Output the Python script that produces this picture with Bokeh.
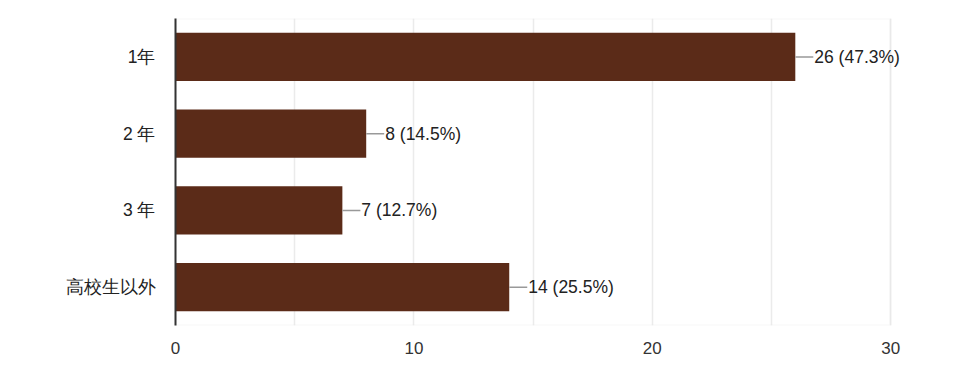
from bokeh.plotting import figure
from bokeh.models import ColumnDataSource, FactorRange, LabelSet, Range1d, FixedTicker, BoxAnnotation
from bokeh.core.properties import value
from bokeh.embed import file_html
from bokeh.resources import INLINE

categories = ["1年", "2 年", "3 年", "高校生以外"]
counts = [26, 8, 7, 14]
x_ticks = [0, 10, 20, 30]
grid_ticks = [0, 5, 10, 15, 20, 25, 30]
x_max = 30

total = sum(counts)
labels = [f"{c} ({c / total * 100:.1f}%)" for c in counts]

FONT = "Liberation Sans"
BAR = "#5b2b18"
PX_PER_UNIT = 715 / x_max
EXTRA = 1.0  # room beyond the axis end for the last label

src = ColumnDataSource(dict(cat=categories, value=counts, label=labels))

p = figure(
    y_range=FactorRange(factors=list(reversed(categories))),
    x_range=Range1d(0, x_max + EXTRA),
    frame_width=int(round(PX_PER_UNIT * (x_max + EXTRA))), frame_height=307,
    min_border_left=175, min_border_right=40,
    min_border_top=18, min_border_bottom=52,
    output_backend="svg", toolbar_location=None,
)

p.outline_line_color = None

p.xgrid.ticker = FixedTicker(ticks=grid_ticks)
p.xgrid.grid_line_color = "#ebebeb"
p.xgrid.grid_line_width = 1.5
p.ygrid.grid_line_color = None

p.add_layout(BoxAnnotation(left=0, right=x_max, fill_alpha=0,
                           line_color="#e6e6e6", line_width=2, level="underlay"))

p.hbar(y="cat", right="value", left=0, height=0.63, source=src,
       fill_color=BAR, line_color=None)

p.ray(x="value", y="cat", length=18, length_units="screen", angle=0,
      line_color="#999999", line_width=1.5, source=src)

p.add_layout(LabelSet(x="value", y="cat", text="label", source=src,
                      x_offset=19, text_baseline="middle", text_align="left",
                      text_font=value(FONT), text_font_size=value("17.5px"),
                      text_color=value("#222222")))

p.xaxis.ticker = FixedTicker(ticks=x_ticks)
p.xaxis.axis_line_color = None
p.xaxis.major_tick_line_color = None
p.xaxis.minor_tick_line_color = None
p.xaxis.major_label_standoff = 10
p.xaxis.major_label_text_font = FONT
p.xaxis.major_label_text_font_size = "17px"
p.xaxis.major_label_text_color = "#333333"

p.yaxis.axis_line_color = "#333333"
p.yaxis.axis_line_width = 2
p.yaxis.major_tick_line_color = None
p.yaxis.minor_tick_line_color = None
p.yaxis.major_label_standoff = 14
p.yaxis.major_label_text_font = FONT
p.yaxis.major_label_text_font_size = "17.5px"
p.yaxis.major_label_text_color = "#222222"

p.background_fill_color = "white"
p.border_fill_color = "white"

open("out.html", "w").write(file_html(p, INLINE))
